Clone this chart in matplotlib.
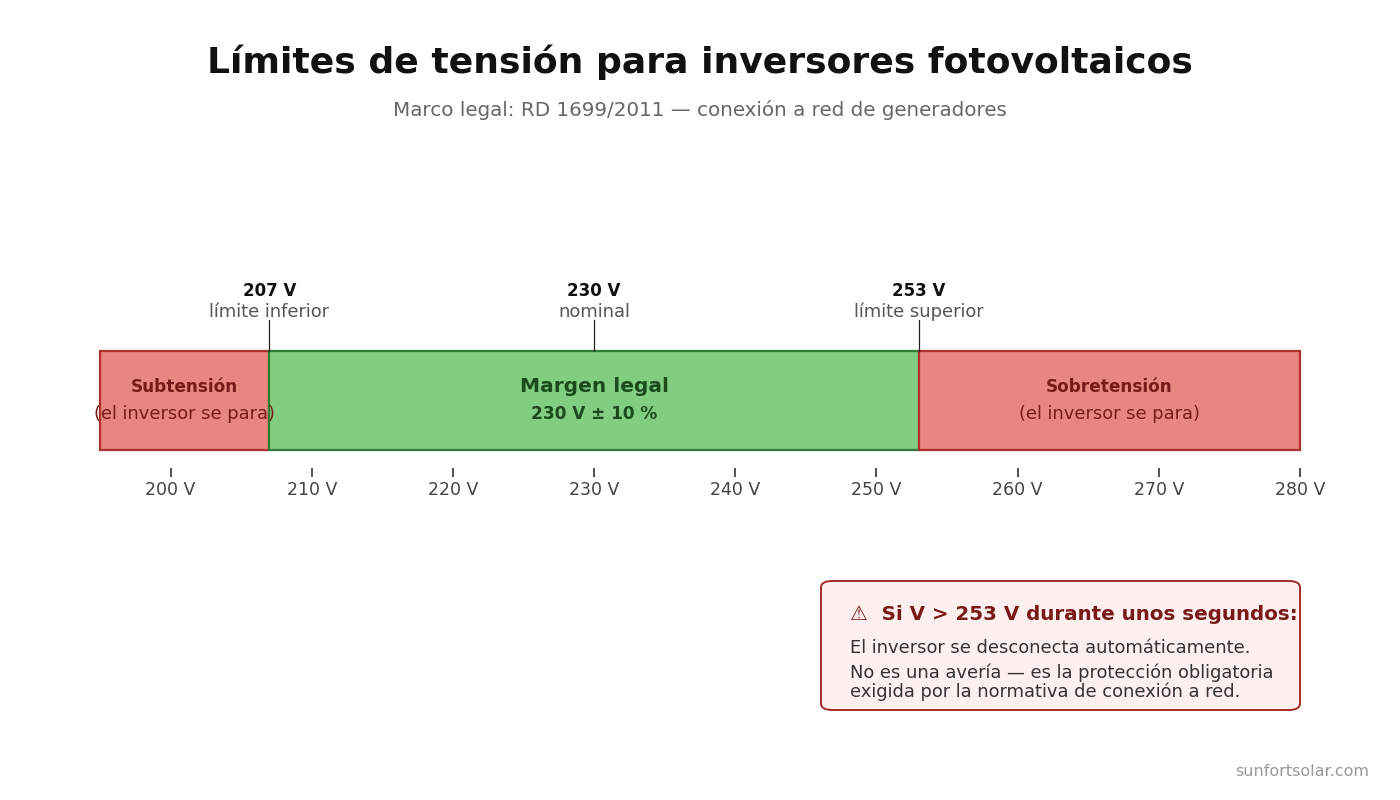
import matplotlib
matplotlib.use("Agg")
import matplotlib.pyplot as plt
from matplotlib.patches import FancyBboxPatch

plt.rcParams["font.family"] = ["DejaVu Sans"]

# zonas de tensión (V)
zona_nombres = ["Subtensión", "Margen legal", "Sobretensión"]
zona_sub = ["(el inversor se para)", "230 V ± 10 %", "(el inversor se para)"]
zona_ini = [195, 207, 253]
zona_fin = [207, 253, 280]
zona_tipo = ["mal", "ok", "mal"]

# marcas
marcas_v = [207, 230, 253]
marcas_txt = ["límite inferior", "nominal", "límite superior"]

ticks_v = [200, 210, 220, 230, 240, 250, 260, 270, 280]

colores = {
    "mal": ("#E8877F", "#B0302B", "#7A1A18"),
    "ok": ("#81CD81", "#2E7D32", "#1B4A1B"),
}

fig = plt.figure(figsize=(14, 8), dpi=100)
ax = fig.add_axes([100 / 1400, 1 - 468 / 800, 1200 / 1400, 168 / 800])
ax.set_xlim(195, 280)
ax.set_ylim(0, 1)

y0, y1 = 0.107, 0.696
for nom, sub, a, b, t in zip(zona_nombres, zona_sub, zona_ini, zona_fin, zona_tipo):
    fc, ec, tc = colores[t]
    ax.barh((y0 + y1) / 2, b - a, left=a, height=y1 - y0, color=fc,
            edgecolor=ec, linewidth=1.6, zorder=2, clip_on=False)
    xc = (a + b) / 2
    if t == "ok":
        ax.text(xc, 0.485, nom, ha="center", va="center", fontsize=14.5,
                fontweight="bold", color=tc, zorder=4)
        ax.text(xc, 0.32, sub, ha="center", va="center", fontsize=12.2,
                fontweight="bold", color=tc, zorder=4)
    else:
        ax.text(xc, 0.485, nom, ha="center", va="center", fontsize=12.2,
                fontweight="bold", color=tc, zorder=4)
        ax.text(xc, 0.32, sub, ha="center", va="center", fontsize=12.9,
                color=tc, zorder=4)

for v, txt in zip(marcas_v, marcas_txt):
    ax.plot([v, v], [y1, 0.881], color="#222222", linewidth=0.9, zorder=3,
            clip_on=False)
    ax.text(v, 1.054, f"{v} V", ha="center", va="center", fontsize=12,
            fontweight="bold", color="#111111", clip_on=False)
    ax.text(v, 0.929, txt, ha="center", va="center", fontsize=12.9,
            color="#555555", clip_on=False)

ax.set_xticks(ticks_v)
ax.set_xticklabels([f"{v} V" for v in ticks_v], fontsize=12.5, color="#444444")
ax.tick_params(axis="x", length=6.5, width=1.2, color="#333333", pad=3)
ax.set_yticks([])
for s in ax.spines.values():
    s.set_visible(False)

fig.text(0.5, 1 - 62 / 800, "Límites de tensión para inversores fotovoltaicos",
         ha="center", va="center", fontsize=26, fontweight="bold", color="#111111")
fig.text(0.5, 1 - 110 / 800, "Marco legal: RD 1699/2011 — conexión a red de generadores",
         ha="center", va="center", fontsize=14.3, color="#666666")

# caja de aviso
caja = FancyBboxPatch((821 / 1400, 1 - 710 / 800), 479 / 1400, 129 / 800,
                      boxstyle="round,pad=0,rounding_size=0.008",
                      transform=fig.transFigure, facecolor="#FFF0F0",
                      edgecolor="#A52A2A", linewidth=1.4)
fig.patches.append(caja)
fig.text(850 / 1400, 1 - 614 / 800, "⚠  Si V > 253 V durante unos segundos:",
         ha="left", va="center", fontsize=14.35, fontweight="bold", color="#7A1A18")
fig.text(850 / 1400, 1 - 648 / 800, "El inversor se desconecta automáticamente.",
         ha="left", va="center", fontsize=12.9, color="#333333")
fig.text(850 / 1400, 1 - 673 / 800, "No es una avería — es la protección obligatoria",
         ha="left", va="center", fontsize=12.9, color="#333333")
fig.text(850 / 1400, 1 - 692 / 800, "exigida por la normativa de conexión a red.",
         ha="left", va="center", fontsize=12.9, color="#333333")

fig.text(1369 / 1400, 1 - 771 / 800, "sunfortsolar.com", ha="right", va="center",
         fontsize=11.5, color="#999999")

fig.savefig("out.png", dpi=100, facecolor="white")
